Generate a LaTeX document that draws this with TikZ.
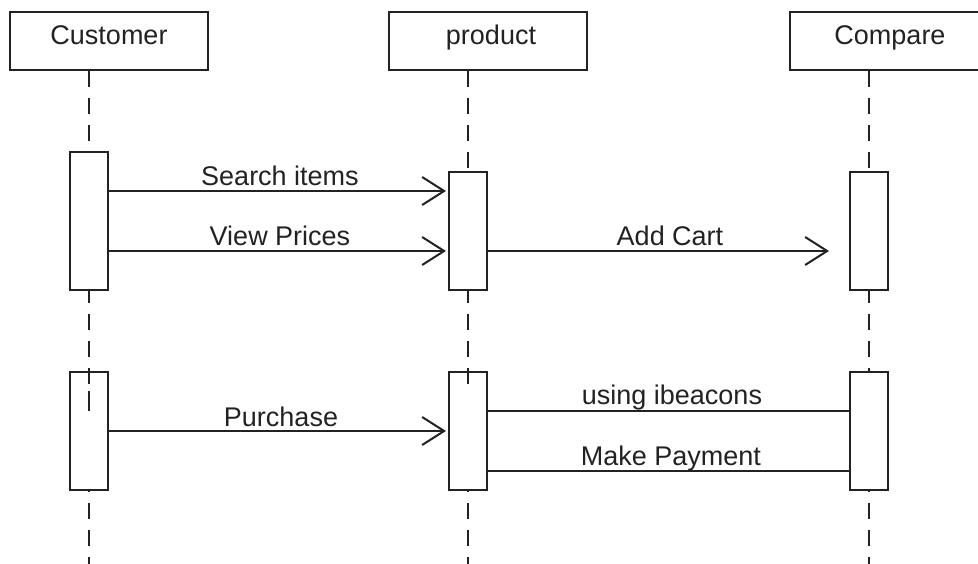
\documentclass[tikz,border=0pt]{standalone}
\usepackage{fontspec}
\setmainfont{Liberation Sans}
\usetikzlibrary{arrows.meta}

\definecolor{ink}{HTML}{222222}

\tikzset{
  x=1pt, y=-1pt,
  every node/.style={font=\fontsize{27}{30}\selectfont, text=ink},
  actor/.style={draw=ink, line width=2pt, fill=white, minimum width=198pt,
    minimum height=58pt, inner sep=0pt},
  actbar/.style={draw=ink, line width=2pt, fill=white, minimum width=38pt,
    inner sep=0pt},
  lifeline/.style={draw=ink, line width=2pt, dash pattern=on 16pt off 11pt},
  msg/.style={draw=ink, line width=2pt,
    -{Straight Barb[length=22pt,width=28pt,line width=2pt]}},
  reply/.style={draw=ink, line width=2pt},
  lbl/.style={anchor=base, inner sep=0pt},
}

\begin{document}
\begin{tikzpicture}
  \useasboundingbox (0,0) rectangle (978,564);
  \clip (0,0) rectangle (978,564);

  % participants
  \node[actor] (cust) at (109,41) {};
  \node[lbl] at (109,45) {Customer};
  \node[actor] (prod) at (488,41) {};
  \node[lbl] at (491,45) {product};
  \node[actor] (comp) at (889,41) {};
  \node[lbl] at (890,45) {Compare};

  % lifelines
  \coordinate (custEnd) at (89,564);
  \coordinate (prodEnd) at (468,564);
  \coordinate (compEnd) at (869,564);
  \draw[lifeline] (cust.south -| custEnd) -- (custEnd);
  \draw[lifeline] (prod.south -| prodEnd) -- (prodEnd);
  \draw[lifeline] (comp.south -| compEnd) -- (compEnd);

  % activation bars, first round
  \node[actbar, minimum height=138pt] (c1) at (89,221) {};
  \node[actbar, minimum height=118pt] (p1) at (468,231) {};
  \node[actbar, minimum height=118pt] (k1) at (869,231) {};

  % activation bars, second round
  \node[actbar, minimum height=118pt] (c2) at (89,431) {};
  \node[actbar, minimum height=118pt] (p2) at (468,431) {};
  \node[actbar, minimum height=118pt] (k2) at (869,431) {};

  % lifeline dashes showing through the top of the second bars
  \draw[reply] (c2.north) -- ([yshift=-13pt]c2.north);
  \draw[reply] ([yshift=-20pt]c2.north) -- ([yshift=-40pt]c2.north);
  \draw[reply] (p2.north) -- ([yshift=-13pt]p2.north);

  % messages
  \draw[msg, shorten >=2pt] ([yshift=-40pt]c1.north east) -- ([yshift=-20pt]p1.north west);
  \draw[msg, shorten >=2pt] ([yshift=-100pt]c1.north east) -- ([yshift=-80pt]p1.north west);
  \draw[msg, shorten >=20pt] ([yshift=-80pt]p1.north east) -- ([yshift=-80pt]k1.north west);
  \draw[msg, shorten >=2pt] ([yshift=-60pt]c2.north east) -- ([yshift=-60pt]p2.north west);
  \draw[reply] ([yshift=-40pt]p2.north east) -- ([yshift=-40pt]k2.north west);
  \draw[reply] ([yshift=-100pt]p2.north east) -- ([yshift=-100pt]k2.north west);

  % message labels
  \node[lbl] at (280,186) {Search items};
  \node[lbl] at (280,246) {View Prices};
  \node[lbl] at (670,246) {Add Cart};
  \node[lbl] at (281,426) {Purchase};
  \node[lbl] at (672,404) {using ibeacons};
  \node[lbl] at (671,465) {Make Payment};
\end{tikzpicture}
\end{document}
